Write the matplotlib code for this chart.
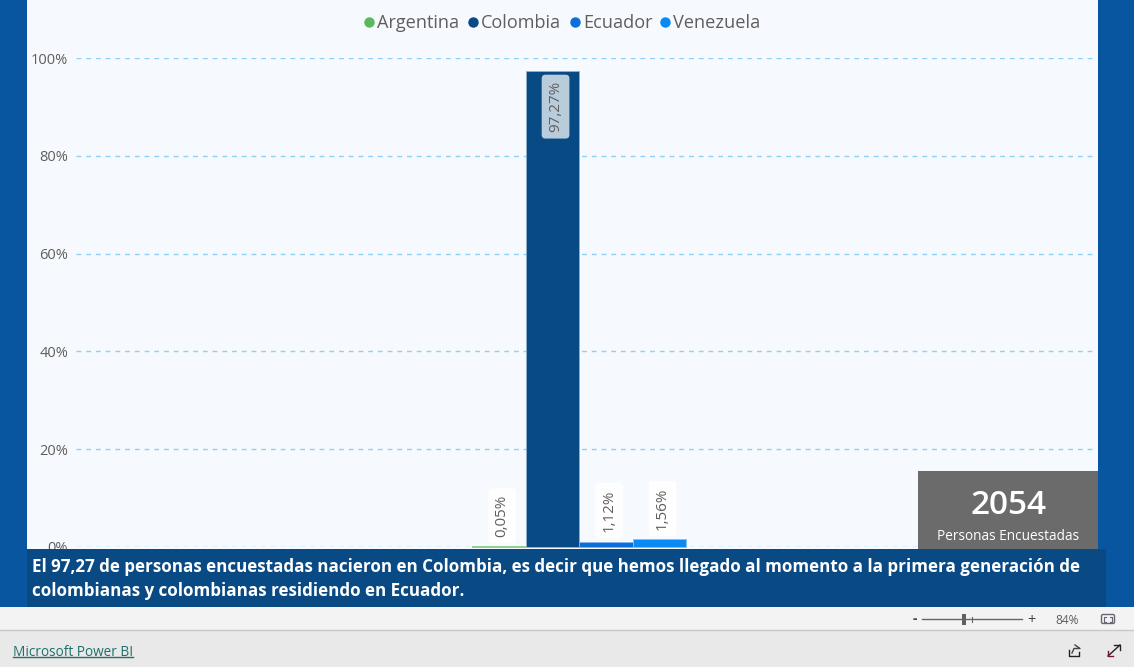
import matplotlib
matplotlib.use("Agg")
import matplotlib.pyplot as plt
from matplotlib.patches import Rectangle, FancyBboxPatch

plt.rcParams['font.family'] = ['Open Sans', 'DejaVu Sans']

paises = ["Argentina", "Colombia", "Ecuador", "Venezuela"]
valores = [0.05, 97.27, 1.12, 1.56]
etiquetas = ["0,05%", "97,27%", "1,12%", "1,56%"]
colores = ["#5CB85C", "#084A83", "#0B6FDA", "#0A8AF5"]
bordes = ["#86CC86", "#8FB0CF", "#7FB5EE", "#7FC1F8"]
grosores = [1.3, 0.6, 0.6, 0.6]
y_ticks = [0, 20, 40, 60, 80, 100]
y_labels = ["0%", "20%", "40%", "60%", "80%", "100%"]
total = "2054"
total_label = "Personas Encuestadas"
mensaje = ["El 97,27 de personas encuestadas nacieron en Colombia, es decir que hemos llegado al momento a la primera generación de",
           "colombianas y colombianas residiendo en Ecuador."]

GRIS = "#605E5C"
W, H = 1134, 667

fig = plt.figure(figsize=(W / 100, H / 100), dpi=100, facecolor="#F3F3F3")


def px_axes(x0, y0, x1, y1, **kw):
    return fig.add_axes([x0 / W, 1 - y1 / H, (x1 - x0) / W, (y1 - y0) / H], **kw)


# fondo: marco azul, panel del reporte, barra de zoom y pie
bg = px_axes(0, 0, W, H, zorder=0)
bg.set_xlim(0, W)
bg.set_ylim(H, 0)
bg.axis("off")
bg.add_patch(Rectangle((0, 0), W, 607, color="#07569F", lw=0))
bg.add_patch(Rectangle((27, 0), 1071, 607, color="#F6FAFE", lw=0))
bg.add_patch(Rectangle((0, 607), W, 23, color="#F3F3F3", lw=0))
bg.add_patch(Rectangle((0, 630), W, 37, color="#E9E9E9", lw=0))
bg.plot([0, W], [630, 630], color="#C8C8C8", lw=1)

# grafico de columnas
ax = px_axes(76, 58, 1093, 547, zorder=1)
ax.patch.set_alpha(0)
bar_w = 53.5
ax.set_xlim((76 - 499) / bar_w, (1093 - 499) / bar_w)
ax.set_ylim(0, 100)
for s in ax.spines.values():
    s.set_visible(False)
ax.set_xticks([])
ax.set_yticks(y_ticks, y_labels)
ax.tick_params(axis="y", length=0, pad=5.6, labelsize=10.5, labelcolor=GRIS)
ax.grid(axis="y", color="#8FD0F8", lw=1, ls=(0, (3.5, 3.5)))
ax.set_axisbelow(True)

x = range(len(paises))
ax.bar(x, valores, width=1.0, color=colores, edgecolor=bordes, linewidth=grosores, clip_on=False)

for i, (v, txt) in enumerate(zip(valores, etiquetas)):
    adentro = v > 50
    ax.annotate(txt, (i, v), xytext=(2.2, -7 if adentro else 7), textcoords="offset points",
                rotation=90, ha="center", va="top" if adentro else "bottom",
                fontsize=10.9, color=GRIS,
                bbox=dict(boxstyle="round,pad=0.42,rounding_size=0.25",
                          fc="#FFFFFF", ec="none", alpha=0.72 if adentro else 0.95))

# capa superior: leyenda, tarjeta, banda de texto, controles
top = px_axes(0, 0, W, H, zorder=2)
top.patch.set_alpha(0)
top.set_xlim(0, W)
top.set_ylim(H, 0)
top.axis("off")

legend_x = [368.5, 472.5, 574.5, 664.5]
for xp, nombre, c in zip(legend_x, paises, colores):
    top.plot([xp], [21.5], "o", ms=7.5, color=c, mew=0)
    top.text(xp + 8.5, 23, nombre, fontsize=13.1, color=GRIS, va="center", ha="left")

top.add_patch(Rectangle((918, 471), 180, 83, color="#6B6B6B", lw=0))
top.text(1008.5, 505, total, color="white", fontsize=24, fontweight="semibold", ha="center", va="center")
top.text(1008.5, 537, total_label, color="white", fontsize=9.8, ha="center", va="center")

top.add_patch(Rectangle((27, 549), 1079, 58, color="#0A4A84", lw=0))
for k, linea in enumerate(mensaje):
    top.text(31.5, 567.5 + 23.5 * k, linea, color="white", fontsize=12.25, fontweight="bold", va="center", ha="left")

# zoom 84%
top.text(915, 619, "-", color="#444444", fontsize=10, ha="center", va="center", fontweight="bold")
top.plot([922, 1022], [619, 619], color="#666666", lw=1)
top.plot([972, 972], [616.5, 621.5], color="#666666", lw=0.8)
top.add_patch(Rectangle((962, 614), 4, 11, color="#606060", lw=0))
top.text(1032, 621, "+", color="#444444", fontsize=10.5, ha="center", va="center")
top.text(1067, 620, "84%", color=GRIS, fontsize=8.6, ha="center", va="center")
top.add_patch(FancyBboxPatch((1101.5, 614.5), 13, 9, boxstyle="round,pad=0,rounding_size=1.5",
                             fc="none", ec="#666677", lw=1))
top.plot([1104, 1104, 1106], [618.5, 616.5, 616.5], color="#666677", lw=0.8)
top.plot([1110, 1112, 1112], [616.5, 616.5, 618.5], color="#666677", lw=0.8)
top.plot([1104, 1104, 1106], [619.5, 621.5, 621.5], color="#666677", lw=0.8)
top.plot([1110, 1112, 1112], [621.5, 621.5, 619.5], color="#666677", lw=0.8)

# pie
top.text(13, 652.5, "Microsoft Power BI", color="#1F6F6B", fontsize=9.8, va="center", ha="left")
top.plot([13, 133], [657, 657], color="#1F6F6B", lw=1)
# iconos compartir y expandir
top.plot([1069, 1069, 1079, 1079], [650, 656, 656, 652], color="#222222", lw=1)
top.plot([1072, 1074, 1080, 1075], [653, 648.5, 648.5, 645], color="#444444", lw=1)
top.plot([1108, 1120], [656, 645], color="#222222", lw=1)
top.plot([1114, 1120, 1120], [645, 645, 650], color="#222222", lw=1)
top.plot([1108, 1108, 1113], [651, 656, 656], color="#7A1040", lw=1)

fig.savefig("out.png", dpi=100, facecolor=fig.get_facecolor())
